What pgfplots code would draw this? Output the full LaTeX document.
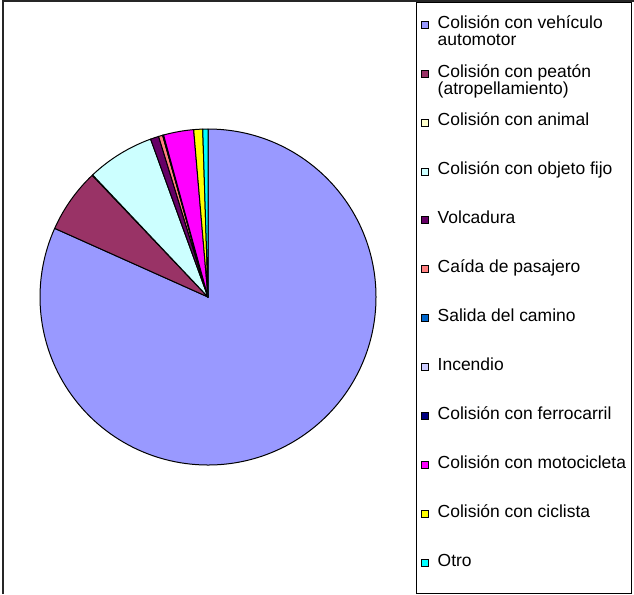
\documentclass[border=0pt]{standalone}
\usepackage{fontspec}
\setmainfont{Liberation Sans}
\usepackage{pgfplots}
\usepackage{pgfplotstable}
\pgfplotsset{compat=1.18}

% slice colours
\definecolor{cVeh}{HTML}{9999FF}
\definecolor{cPea}{HTML}{993366}
\definecolor{cAni}{HTML}{FFFFCC}
\definecolor{cObj}{HTML}{CCFFFF}
\definecolor{cVol}{HTML}{660066}
\definecolor{cCai}{HTML}{FF8080}
\definecolor{cSal}{HTML}{0066CC}
\definecolor{cInc}{HTML}{CCCCFF}
\definecolor{cFer}{HTML}{000080}
\definecolor{cMot}{HTML}{FF00FF}
\definecolor{cCic}{HTML}{FFFF00}
\definecolor{cOtr}{HTML}{00FFFF}

% share of accidents by type (percent), in drawing order
\pgfplotstableread{
valor color
81.70 cVeh
6.20 cPea
0.05 cAni
6.50 cObj
0.80 cVol
0.40 cCai
0.02 cSal
0.02 cInc
0.05 cFer
2.90 cMot
0.86 cCic
0.50 cOtr
}\accidentes

% legend entry text (first line on the baseline)
\newcommand\ent[1]{\fontsize{13.1}{12.75}\selectfont\begin{tabular}[t]{@{}l@{}}#1\end{tabular}}

\begin{document}
\begin{tikzpicture}
\useasboundingbox (0,0) rectangle (475.5pt,-445.5pt);
\begin{axis}[
  at={(156pt,-222.75pt)}, anchor=center,
  scale only axis, width=252pt, height=252pt,
  xmin=-1, xmax=1, ymin=-1, ymax=1,
  hide axis, clip=false,
  legend cell align=left,
  legend style={at={(axis description cs:1.1339,1.3765)}, anchor=north west,
    draw=none, fill=none, inner sep=0pt, row sep=0pt, column sep=6.5pt,
    nodes={inner sep=0pt, text height=19pt, text depth=17.7pt, anchor=base west}},
  legend image code/.code={\draw[#1,draw=black,line width=0.6pt] (0pt,0pt) rectangle (5.25pt,5.25pt);},
]
\pgfmathsetmacro\acum{0}
\pgfplotsforeachungrouped \i in {0,...,11}{%
  \pgfplotstablegetelem{\i}{valor}\of\accidentes
  \let\val\pgfplotsretval
  \pgfplotstablegetelem{\i}{color}\of\accidentes
  \let\col\pgfplotsretval
  \pgfmathsetmacro\ini{90-3.6*\acum}%
  \pgfmathsetmacro\acum{\acum+\val}%
  \pgfmathsetmacro\fin{90-3.6*\acum}%
  \edef\sector{\noexpand\filldraw[fill=\col, draw=black, line width=0.75pt, line join=round]
    (axis cs:0,0) -- (axis cs:{cos(\ini)},{sin(\ini)}) arc[start angle=\ini, end angle=\fin, radius=1] -- cycle;}%
  \sector
}
\addlegendimage{fill=cVeh}\addlegendentry{\ent{Colisión con vehículo\\automotor}}
\addlegendimage{fill=cPea}\addlegendentry{\ent{Colisión con peatón\\(atropellamiento)}}
\addlegendimage{fill=cAni}\addlegendentry{\ent{Colisión con animal}}
\addlegendimage{fill=cObj}\addlegendentry{\ent{Colisión con objeto fijo}}
\addlegendimage{fill=cVol}\addlegendentry{\ent{Volcadura}}
\addlegendimage{fill=cCai}\addlegendentry{\ent{Caída de pasajero}}
\addlegendimage{fill=cSal}\addlegendentry{\ent{Salida del camino}}
\addlegendimage{fill=cInc}\addlegendentry{\ent{Incendio}}
\addlegendimage{fill=cFer}\addlegendentry{\ent{Colisión con ferrocarril}}
\addlegendimage{fill=cMot}\addlegendentry{\ent{Colisión con motocicleta}}
\addlegendimage{fill=cCic}\addlegendentry{\ent{Colisión con ciclista}}
\addlegendimage{fill=cOtr}\addlegendentry{\ent{Otro}}
\end{axis}
% chart area border and legend box
\draw[line width=1.5pt, black!85] (2.25pt,-445.5pt) -- (2.25pt,-1.1pt) -- (475.5pt,-1.1pt);
\draw[line width=0.75pt] (312pt,-1.5pt) rectangle (473.6pt,-444.75pt);
\end{tikzpicture}
\end{document}
